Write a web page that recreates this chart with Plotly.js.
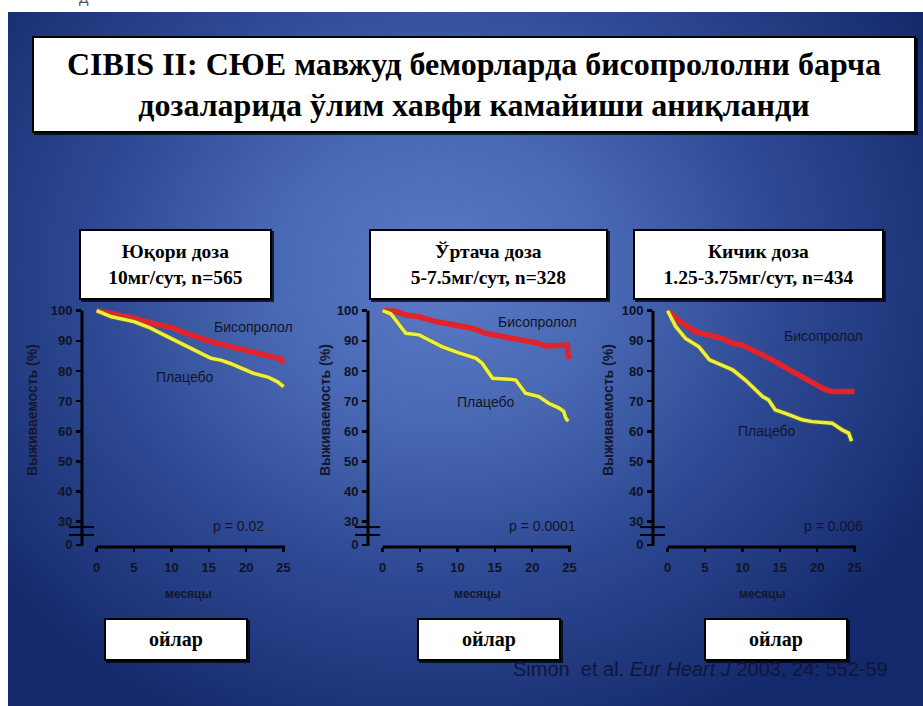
<!DOCTYPE html>
<html><head><meta charset="utf-8">
<script src="https://cdn.plot.ly/plotly-3.0.1.min.js"></script>
<style>
html,body{margin:0;padding:0;background:#fff;width:923px;height:706px;overflow:hidden}
#bg{position:absolute;left:8px;top:12px;width:915px;height:694px;
 background:radial-gradient(ellipse 62% 72% at 47% 38%, #5b7bc6 0%, #4968b3 30%, #2d4892 62%, #14296b 100%);}
#chart{position:absolute;left:0;top:0;width:923px;height:706px}
</style></head><body><div id="bg"></div><div id="chart"></div>
<script>
// ---------- DATA ----------
const panelTitles = ["Юқори доза<br>10мг/сут, n=565", "Ўртача доза<br>5-7.5мг/сут, n=328", "Кичик доза<br>1.25-3.75мг/сут, n=434"];
const pValues = ["p = 0.02", "p = 0.0001", "p = 0.006"];
const seriesNames = ["Бисопролол", "Плацебо"];
const xTickVals = [0, 5, 10, 15, 20, 25];
const yTickVals = [22.3, 30, 40, 50, 60, 70, 80, 90, 100];
const yTickText = ["0", "30", "40", "50", "60", "70", "80", "90", "100"];

const months1Bis = [0, 2, 5, 8, 10, 12, 15, 18, 20, 22, 24, 24.6, 25];
const surv1Bis   = [100, 99, 97.5, 95.5, 94.5, 92.5, 90, 88, 86.8, 85.5, 84.5, 84, 82.5];
const months1Pla = [0, 2, 5, 7, 8.6, 9.5, 11, 13, 15.3, 16.6, 17.9, 19.5, 21, 22.9, 24.2, 25];
const surv1Pla   = [100, 98, 96.4, 94.5, 92.5, 91.4, 89.5, 87, 84.2, 83.6, 82.5, 80.8, 79.2, 78, 76.4, 74.8];

const months2Bis = [0, 1.8, 3.1, 4.9, 7.1, 9.3, 12, 13.8, 16.5, 19.1, 20.9, 21.8, 22.7, 24.7, 24.8, 25];
const surv2Bis   = [100, 99.8, 98.6, 98, 96.4, 95.3, 94.2, 92.5, 91.4, 90.3, 89.2, 88.3, 88.3, 88.6, 85.5, 84];
const months2Pla = [0, 1.1, 3.1, 4.9, 6.2, 8, 10.2, 12.5, 13.3, 14.7, 16.9, 17.8, 19.1, 20.9, 22.2, 23.6, 24.2, 24.5, 24.8];
const surv2Pla   = [100, 99, 92.5, 92, 90.3, 88, 86, 84.2, 82.6, 77.6, 77.3, 77, 72.6, 71.5, 69.3, 67.7, 66.6, 64.4, 63.3];

const months3Bis = [0, 1.6, 3.8, 5.6, 7.3, 8.7, 10, 11.8, 14, 16.7, 19.3, 21.1, 22, 25];
const surv3Bis   = [100, 96.4, 93, 92, 90.8, 89.2, 88.6, 86.4, 83.7, 79.8, 76.5, 73.8, 73.2, 73.2];
const months3Pla = [0, 1.1, 2.4, 4.2, 5.6, 7.3, 8.7, 10.4, 11.8, 12.7, 13.5, 14.4, 16.2, 18, 19.3, 22, 23.3, 24.2, 24.6];
const surv3Pla   = [100, 94.7, 90.8, 88, 83.7, 82, 80.4, 77, 73.8, 71.5, 70.4, 67.1, 65.5, 63.8, 63.2, 62.7, 60.5, 59.4, 56.7];

// ---------- LAYOUT HELPERS ----------
const W = 923, H = 706;
const px = v => v / W, py = v => 1 - v / H;
const XR = [-1.95, 26.5], YR = [21.6, 102];
const plotW = 212.8;
const panelLeft = [82, 368, 653];
const yDom = [py(547), py(304.7)];
const fx = v => (v - XR[0]) / (XR[1] - XR[0]);
const fy = v => (v - YR[0]) / (YR[1] - YR[0]);

const RED = '#e3232b', YEL = '#eef03c', TXT = '#101326';
const tickFont = {family: 'Liberation Sans, Arial', size: 13, color: TXT, weight: 'bold'};
const lblFont = {family: 'Liberation Sans, Arial', size: 14, color: '#12152a'};

const bis = [[months1Bis, surv1Bis], [months2Bis, surv2Bis], [months3Bis, surv3Bis]];
const pla = [[months1Pla, surv1Pla], [months2Pla, surv2Pla], [months3Pla, surv3Pla]];

const data = [];
const layout = {
  width: W, height: H, margin: {l: 0, r: 0, t: 0, b: 0},
  paper_bgcolor: 'rgba(0,0,0,0)', plot_bgcolor: 'rgba(0,0,0,0)',
  showlegend: false, shapes: [], annotations: []
};

for (let i = 0; i < 3; i++) {
  const n = i === 0 ? '' : String(i + 1);
  const xa = 'x' + n, ya = 'y' + n;
  data.push({x: bis[i][0], y: bis[i][1], xaxis: xa, yaxis: ya, type: 'scatter', mode: 'lines',
    name: seriesNames[0], line: {color: RED, width: 5.5}, hoverinfo: 'skip'});
  data.push({x: pla[i][0], y: pla[i][1], xaxis: xa, yaxis: ya, type: 'scatter', mode: 'lines',
    name: seriesNames[1] + ' edge', line: {color: 'rgba(110,115,45,0.5)', width: 5.5}, hoverinfo: 'skip'});
  data.push({x: pla[i][0], y: pla[i][1], xaxis: xa, yaxis: ya, type: 'scatter', mode: 'lines',
    name: seriesNames[1], line: {color: YEL, width: 3.5}, hoverinfo: 'skip'});

  const l = panelLeft[i];
  layout['xaxis' + n] = {domain: [px(l), px(l + plotW)], range: XR, anchor: ya,
    showgrid: false, zeroline: false, showline: false, ticks: 'outside', ticklen: 4, tickwidth: 2.5,
    tickcolor: '#000', tickvals: xTickVals, tickfont: tickFont, ticklabelstandoff: 4, fixedrange: true};
  layout['yaxis' + n] = {domain: yDom, range: YR, anchor: xa,
    showgrid: false, zeroline: false, showline: false, ticks: 'outside', ticklen: 5, tickwidth: 2.5,
    tickcolor: '#000', tickvals: yTickVals, ticktext: yTickText, tickfont: tickFont, ticklabelstandoff: 1, fixedrange: true};

  const xd = xa + ' domain', yd = ya + ' domain';
  layout.shapes.push({type: 'line', xref: xd, yref: yd, x0: 0, x1: 0, y0: fy(22.0), y1: fy(100),
    line: {color: '#000', width: 3}});
  layout.shapes.push({type: 'line', xref: xd, yref: yd, x0: fx(0), x1: fx(25.2), y0: 0, y1: 0,
    line: {color: '#000', width: 3}});
  [28.2, 25.6].forEach(v => layout.shapes.push({type: 'line', xref: xd, yref: yd,
    x0: -13 / plotW, x1: 12 / plotW, y0: fy(v), y1: fy(v), line: {color: '#000', width: 2}}));
}

const bisLbl = [[253, 327], [537, 322], [823, 336]];
const plaLbl = [[185, 377], [486, 402], [767, 431]];
const pLbl = [[239, 526], [542, 526], [833, 526]];
const yTitleX = [32, 325, 608];
const xTitleX = [188, 478, 762];
const ann = o => Object.assign({xref: 'paper', yref: 'paper', xanchor: 'center', yanchor: 'middle', showarrow: false}, o);
const axFont = {family: 'Liberation Sans, Arial', size: 14, color: '#14172e', weight: 'bold'};
for (let i = 0; i < 3; i++) {
  layout.annotations.push(ann({x: px(bisLbl[i][0]), y: py(bisLbl[i][1]), text: seriesNames[0], font: lblFont}));
  layout.annotations.push(ann({x: px(plaLbl[i][0]), y: py(plaLbl[i][1]), text: seriesNames[1], font: lblFont}));
  layout.annotations.push(ann({x: px(pLbl[i][0]), y: py(pLbl[i][1]), text: pValues[i], font: lblFont}));
  layout.annotations.push(ann({x: px(yTitleX[i]), y: py(410), text: 'Выживаемость (%)', textangle: -90, font: axFont}));
  layout.annotations.push(ann({x: px(xTitleX[i]), y: py(594), text: 'месяцы', font: Object.assign({}, axFont, {size: 12})}));
}

// Citation (drawn before boxes so boxes cover it)
layout.annotations.push(ann({x: px(890), y: py(669), xanchor: 'right',
  text: 'Simon  et al. <i>Eur Heart J</i> 2003, 24: 552-59',
  font: {family: 'Liberation Sans Narrow, Liberation Sans, Arial', size: 20, color: '#10163a'}}));

// small cut-off letter at the very top
layout.annotations.push(ann({x: px(84), y: py(-2), text: 'Д', font: {family: 'Liberation Sans', size: 14, color: '#555'}}));

// White boxes
const serif = {family: 'Liberation Serif, Times New Roman, serif', color: '#000', weight: 'bold'};
function box(l, t, r, b, text, size) {
  layout.shapes.push({type: 'rect', xref: 'paper', yref: 'paper', x0: px(l + 2), x1: px(r + 2),
    y0: py(b + 2), y1: py(t + 2), fillcolor: 'rgba(0,0,0,0.75)', line: {width: 0}});
  layout.annotations.push(ann({x: px(l), y: py(t), xanchor: 'left', yanchor: 'top',
    width: r - l - 4, height: b - t - 4, borderpad: 0, borderwidth: 2, bordercolor: '#000', bgcolor: '#fff',
    text: text, align: 'center', valign: 'middle', font: Object.assign({size: size}, serif)}));
}
box(32, 36, 916, 133, 'CIBIS II: СЮЕ мавжуд беморларда бисопрололни барча<br>дозаларида ўлим хавфи камайиши аниқланди', 32);
box(79, 229, 272, 300, panelTitles[0], 19.5);
box(369, 229, 608, 300, panelTitles[1], 19.5);
box(633, 229, 884, 300, panelTitles[2], 19.5);
['ойлар', 'ойлар', 'ойлар'].forEach((t, i) => {
  const L = [104, 417, 704][i];
  box(L, 618, L + 144, 661, t, 20);
});

Plotly.newPlot('chart', data, layout, {staticPlot: true, displayModeBar: false});
</script></body></html>
